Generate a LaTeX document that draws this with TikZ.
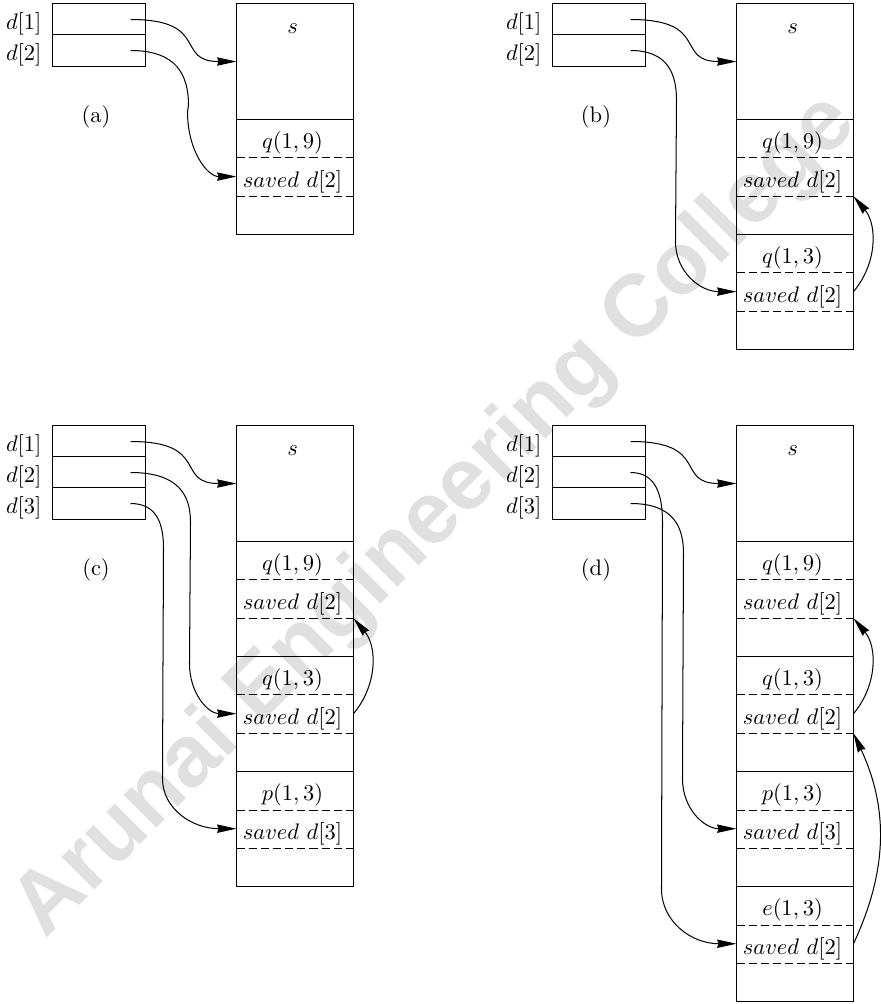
\documentclass[tikz,border=0pt]{standalone}
\usepackage{fontspec}
\newfontfamily\wmfont{Liberation Sans}
\usetikzlibrary{arrows.meta,calc}
\def\U{0.4444pt}
\def\H{38.35}
\def\no{}
\def\sss{$s$}
\def\qa{$q(1,9)$}
\def\qb{$q(1,3)$}
\def\pp{$p(1,3)$}
\def\ee{$e(1,3)$}
\def\svb{$saved\ d[2]$}
\def\svc{$saved\ d[3]$}
\tikzset{
  dcell/.style={rectangle, minimum width=92*\U, minimum height=31*\U, inner sep=0pt},
  dlab/.style={anchor=east, inner sep=0pt},
  rowc/.style={rectangle, inner sep=0pt, minimum width=116*\U, minimum height=\H*\U,
    text height=9.4pt, text depth=0pt, execute at end node={\hspace{2.2pt}}},
  dsh/.style={dash pattern=on 3.6pt off 1.8pt},
  arr/.style={-{Stealth[length=8.6pt,width=3.7pt,inset=0.6pt]}},
  wm/.style={text=black!12, font=\wmfont\bfseries\fontsize{39}{39}\selectfont, inner sep=0pt}
}
\newcommand\stackcol[2]{%
  \foreach \t [count=\i from 0] in {#2} {\node[rowc] (#1-r\i) at (295,{(\i+0.5)*\H}) {\t};}%
}
\newcommand\dcol[2]{%
  \foreach \i in {1,...,#2} {%
    \node[dcell] (#1-d\i) at (99,{31*(\i-0.5)}) {};
    \node[dlab] (#1-l\i) at (42,{31*(\i-0.5)+4}) {$d[\i]$};
    \coordinate (#1-s\i) at ($(#1-d\i.east)+(-15,0)$);
  }%
  \draw (#1-d1.north west) rectangle (#1-d#2.south east);
  \foreach \i in {2,...,#2} \draw (#1-d\i.north west) -- (#1-d\i.north east);
}
\newcommand\longarr[6]{%
  \draw[arr] (#1) .. controls +({0.8*#3},0) and +(0,{-0.55*#5}) .. ($(#1)+(#3,#5)$)
    -- ($(#2)+({-#4},{-#6})$) .. controls +(0,{0.6*#6}) and +({-0.6*#4},0) .. (#2);
}
\newcommand\shortarr[2]{%
  \draw[arr] (#1) .. controls +(80,0) and +(-62,0) .. (#2);
}
\begin{document}
\begin{tikzpicture}[x=\U, y=-\U, line width=0.45pt]
\useasboundingbox (0,0) rectangle (881,1004);
\node[wm, anchor=base west, rotate=45] (wmark) at (45,940) {Arunai Engineering College};

% ---------- (a)
\begin{scope}[shift={(0,4)}]
  \dcol{a}{2}
  \node (a-cap) at (96,112.5) {(a)};
  \stackcol{a}{\sss,\no,\no,\qa,\svb,\no}
  \draw (a-r0.north west) rectangle (a-r5.south east);
  \draw (a-r2.south west) -- (a-r2.south east);
  \foreach \j in {3,4} \draw[dsh] (a-r\j.south west) -- (a-r\j.south east);
  \shortarr{a-s1}{a-r1.west}
  \longarr{a-s2}{a-r4.west}{58}{49}{55}{65}
\end{scope}

% ---------- (b)
\begin{scope}[shift={(500,4)}]
  \dcol{b}{2}
  \node (b-cap) at (96,112.5) {(b)};
  \stackcol{b}{\sss,\no,\no,\qa,\svb,\no,\qb,\svb,\no}
  \draw (b-r0.north west) rectangle (b-r8.south east);
  \foreach \j in {2,5} \draw (b-r\j.south west) -- (b-r\j.south east);
  \foreach \j in {3,4,6,7} \draw[dsh] (b-r\j.south west) -- (b-r\j.south east);
  \shortarr{b-s1}{b-r1.west}
  \longarr{b-s2}{b-r7.west}{46}{61}{50}{50}
  \draw[arr] (b-r7.east) to[bend right=40] (b-r4.south east);
\end{scope}

% ---------- (c)
\begin{scope}[shift={(0,426)}]
  \dcol{c}{3}
  \node (c-cap) at (96,143.5) {(c)};
  \stackcol{c}{\sss,\no,\no,\qa,\svb,\no,\qb,\svb,\no,\pp,\svc,\no}
  \draw (c-r0.north west) rectangle (c-r11.south east);
  \foreach \j in {2,5,8} \draw (c-r\j.south west) -- (c-r\j.south east);
  \foreach \j in {3,4,6,7,9,10} \draw[dsh] (c-r\j.south west) -- (c-r\j.south east);
  \shortarr{c-s1}{c-r1.west}
  \longarr{c-s2}{c-r7.west}{60}{47}{50}{50}
  \longarr{c-s3}{c-r10.west}{33}{74}{45}{50}
  \draw[arr] (c-r7.east) to[bend right=40] (c-r4.south east);
\end{scope}

% ---------- (d)
\begin{scope}[shift={(500,426)}]
  \dcol{d}{3}
  \node (d-cap) at (96,143.5) {(d)};
  \stackcol{d}{\sss,\no,\no,\qa,\svb,\no,\qb,\svb,\no,\pp,\svc,\no,\ee,\svb,\no}
  \draw (d-r0.north west) rectangle (d-r14.south east);
  \foreach \j in {2,5,8,11} \draw (d-r\j.south west) -- (d-r\j.south east);
  \foreach \j in {3,4,6,7,9,10,12,13} \draw[dsh] (d-r\j.south west) -- (d-r\j.south east);
  \shortarr{d-s1}{d-r1.west}
  \longarr{d-s2}{d-r13.west}{32}{75}{50}{55}
  \longarr{d-s3}{d-r10.west}{53}{54}{50}{50}
  \draw[arr] (d-r7.east) to[bend right=40] (d-r4.south east);
  \draw[arr] (d-r13.east) to[bend right=25] (d-r7.south east);
\end{scope}
\end{tikzpicture}
\end{document}
